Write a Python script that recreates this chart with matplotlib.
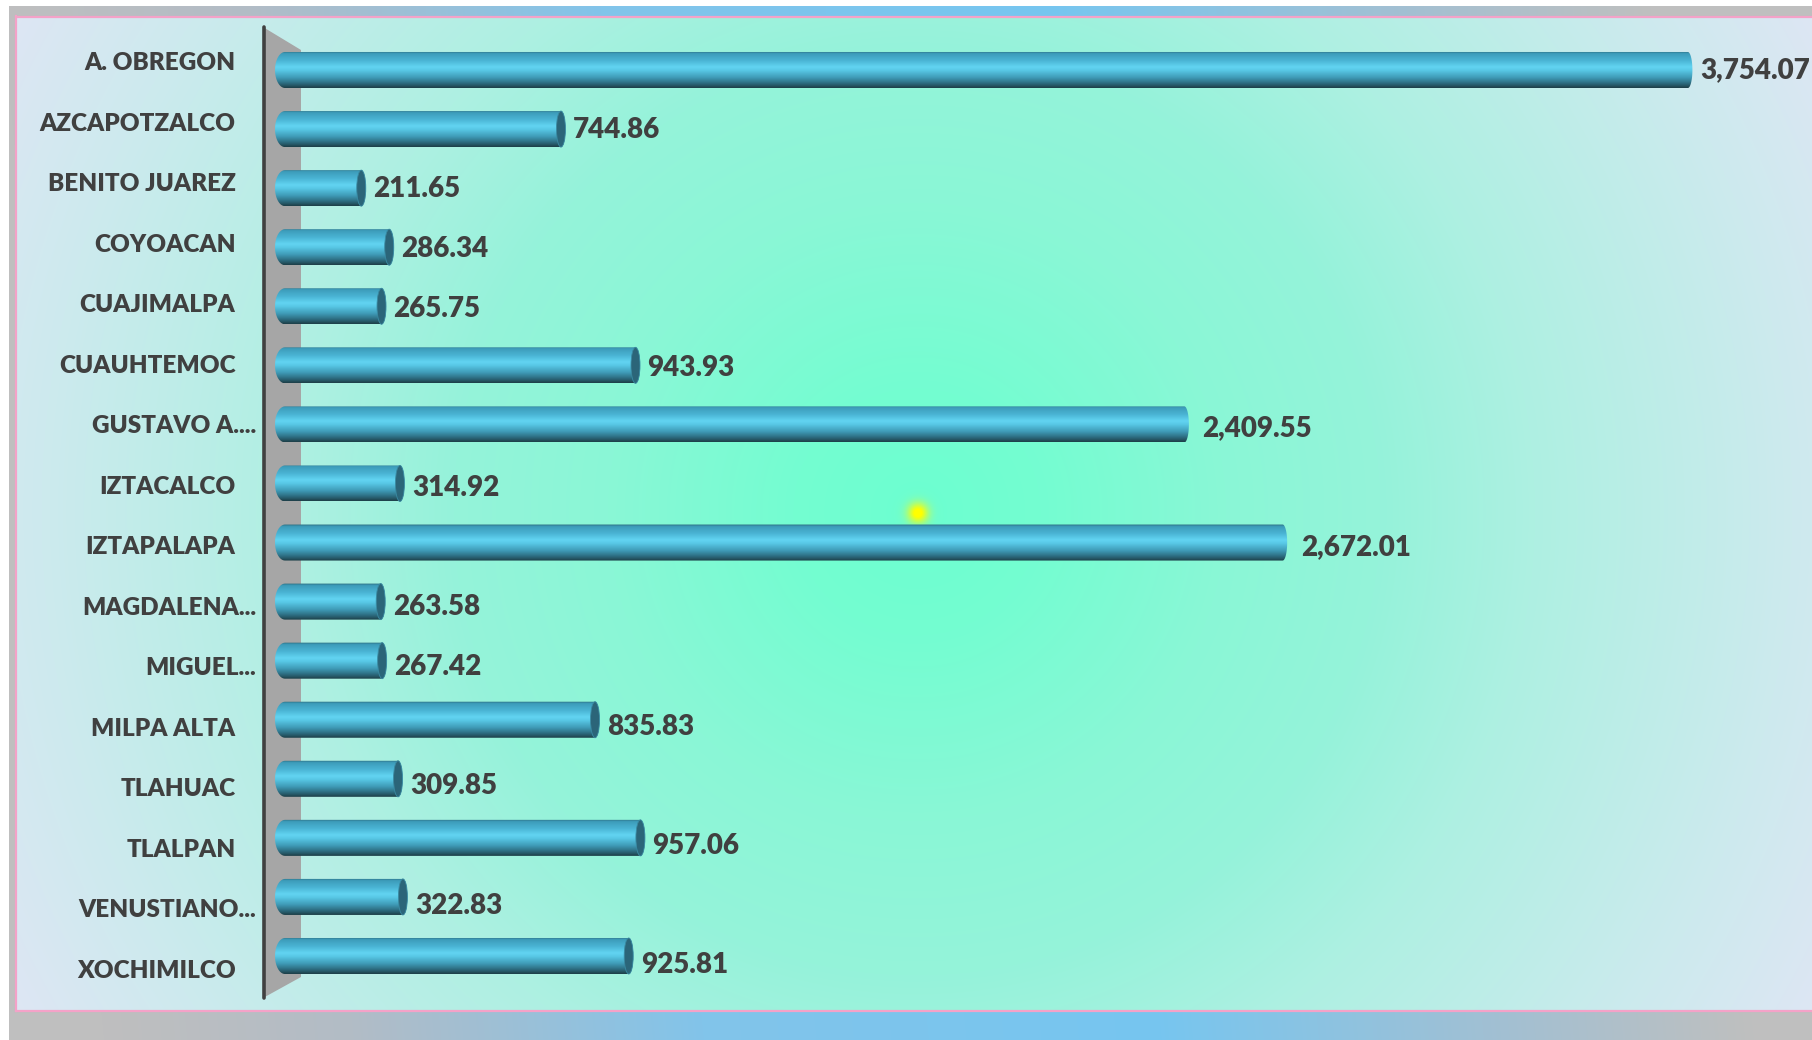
import numpy as np
import matplotlib.pyplot as plt
from matplotlib.colors import to_rgb
from matplotlib.patches import Polygon, Ellipse, PathPatch
from matplotlib.path import Path

delegaciones = ["A. OBREGON", "AZCAPOTZALCO", "BENITO JUAREZ", "COYOACAN",
                "CUAJIMALPA", "CUAUHTEMOC", "GUSTAVO A....", "IZTACALCO",
                "IZTAPALAPA", "MAGDALENA...", "MIGUEL...", "MILPA ALTA",
                "TLAHUAC", "TLALPAN", "VENUSTIANO...", "XOCHIMILCO"]
valores = [3754.07, 744.86, 211.65, 286.34, 265.75, 943.93, 2409.55, 314.92,
           2672.01, 263.58, 267.42, 835.83, 309.85, 957.06, 322.83, 925.81]

W, H = 1812, 1040
TXT = "#404040"
FONT = "Lato"
PESO = 800


def ramp(t, stops):
    pos = [p for p, _ in stops]
    cols = np.array([to_rgb(c) for _, c in stops])
    return np.stack([np.interp(t, pos, cols[:, k]) for k in range(3)], -1)


fig = plt.figure(figsize=(W / 100, H / 100), dpi=100)

# fondo en coordenadas de pixel
bg = fig.add_axes([0, 0, 1, 1])
bg.set_xlim(0, W)
bg.set_ylim(H, 0)
bg.axis("off")

yy, xx = np.mgrid[0:H, 0:W] + 0.5
img = np.ones((H, W, 3))

frame = ramp(xx - 0.1 * yy, [(0, "#bfbfbf"), (250, "#b2bcc6"), (600, "#82c4ea"),
                             (1050, "#76c6f0"), (1380, "#a0c0d4"), (1650, "#bfbfbf"),
                             (2200, "#bfbfbf")])
m = (xx >= 9) & (yy >= 6)
img[m] = frame[m]

d = np.hypot(xx - 917, yy - 512) / 1030
panel = ramp(d, [(0, "#6cffd0"), (0.12, "#74fdd1"), (0.3, "#8af7d6"), (0.45, "#95f3da"),
                 (0.6, "#aef0e2"), (0.85, "#cdeaee"), (1.0, "#dee6f4"), (1.2, "#dee6f4")])
m = (xx >= 16) & (yy >= 16) & (yy <= 1011)
img[m] = panel[m]

r = np.hypot(xx - 918, yy - 513)
a = np.clip(1.15 * np.exp(-(r / 10.0) ** 2), 0, 1)[..., None]
img = img * (1 - a) + np.array([1.0, 1.0, 0.0]) * a

bg.imshow(img, extent=(0, W, H, 0), aspect="auto", zorder=0)

pink = "#f4a2c8"
bg.plot([16, W], [16.5, 16.5], color=pink, lw=1.6, zorder=1)
bg.plot([16, W], [1011, 1011], color=pink, lw=1.6, zorder=1)
bg.plot([16, 16], [16, 1011], color=pink, lw=1.6, zorder=1)

# pared del eje
bg.add_patch(Polygon([(263, 27), (301, 50), (301, 977), (263, 998)],
                     closed=True, facecolor="#a6a6a6", edgecolor="none", zorder=2))
bg.plot([263.5, 263.5], [27, 998], color="#404040", lw=2.6,
        solid_capstyle="round", zorder=3)

# etiquetas de categorias
for i, nombre in enumerate(delegaciones):
    x = 256 if nombre.endswith("...") else 235.5
    bg.text(x, 70.3 + 60.5 * i, nombre, ha="right", va="baseline",
            fontsize=17.5, fontweight=PESO, color=TXT, family=FONT, zorder=4)

# ejes de datos
sx = 0.3745  # pixeles por unidad
ax = fig.add_axes([16 / W, 29 / H, (W - 16) / W, 995 / H])
ax.patch.set_alpha(0)
ax.axis("off")

pos = np.arange(len(valores))
bars = ax.barh(pos, valores, height=0.61, color="none", edgecolor="none")

grad = ramp(np.linspace(0, 1, 64), [(0, "#2e6f82"), (0.06, "#3c9cba"), (0.25, "#4ab4d4"),
                                     (0.43, "#62d4f2"), (0.52, "#58c8e6"), (0.72, "#3f9bb7"),
                                     (0.88, "#2c6b7e"), (1.0, "#1e4049")])[:, None, :]

aL = 10 / sx
aR = 4.5 / sx
xcL = 3 / sx
th = np.linspace(np.pi / 2, 3 * np.pi / 2, 30)
th2 = np.linspace(3 * np.pi / 2, 5 * np.pi / 2, 30)

for i, b in enumerate(bars):
    w = b.get_width()
    y0 = b.get_y()
    h = b.get_height()
    yc = y0 + h / 2
    vx = np.concatenate([xcL + aL * np.cos(th), w + aR * np.cos(th2)])
    vy = np.concatenate([yc + h / 2 * np.sin(th), yc + h / 2 * np.sin(th2)])
    shape = PathPatch(Path(np.column_stack([vx, vy])),
                      facecolor="none", edgecolor="none")
    ax.add_patch(shape)
    im = ax.imshow(grad, extent=(xcL - aL, w + aR, y0 + h, y0), aspect="auto",
                   interpolation="bilinear", zorder=5)
    im.set_clip_path(shape)
    end_px = 282 + w * sx
    capped = end_px < 917
    if capped:
        ax.add_patch(Ellipse((w, yc), 2 * aR, h, facecolor="#2b6579",
                             edgecolor="#3a8aa2", lw=0.6, zorder=6))
    off = 12 if capped else 18
    ax.annotate(f"{w:,.2f}", xy=(w, yc), xytext=(off, -(8 + 0.63 * i)),
                textcoords="offset pixels", ha="left", va="baseline",
                fontsize=20, fontweight=PESO, color=TXT, family=FONT, zorder=7)

ax.set_xlim((16 - 282) / sx, (W - 282) / sx)
ax.set_ylim(15.931, -0.9142)

# si la etiqueta se sale del panel, se recorre hacia adentro
fig.canvas.draw()
ren = fig.canvas.get_renderer()
for t in ax.texts:
    ext = t.get_window_extent(ren)
    if ext.x1 > W - 2:
        x, y = t.xyann
        t.xyann = (x - (ext.x1 - (W - 2)), y)

fig.savefig("out.png", dpi=100)
